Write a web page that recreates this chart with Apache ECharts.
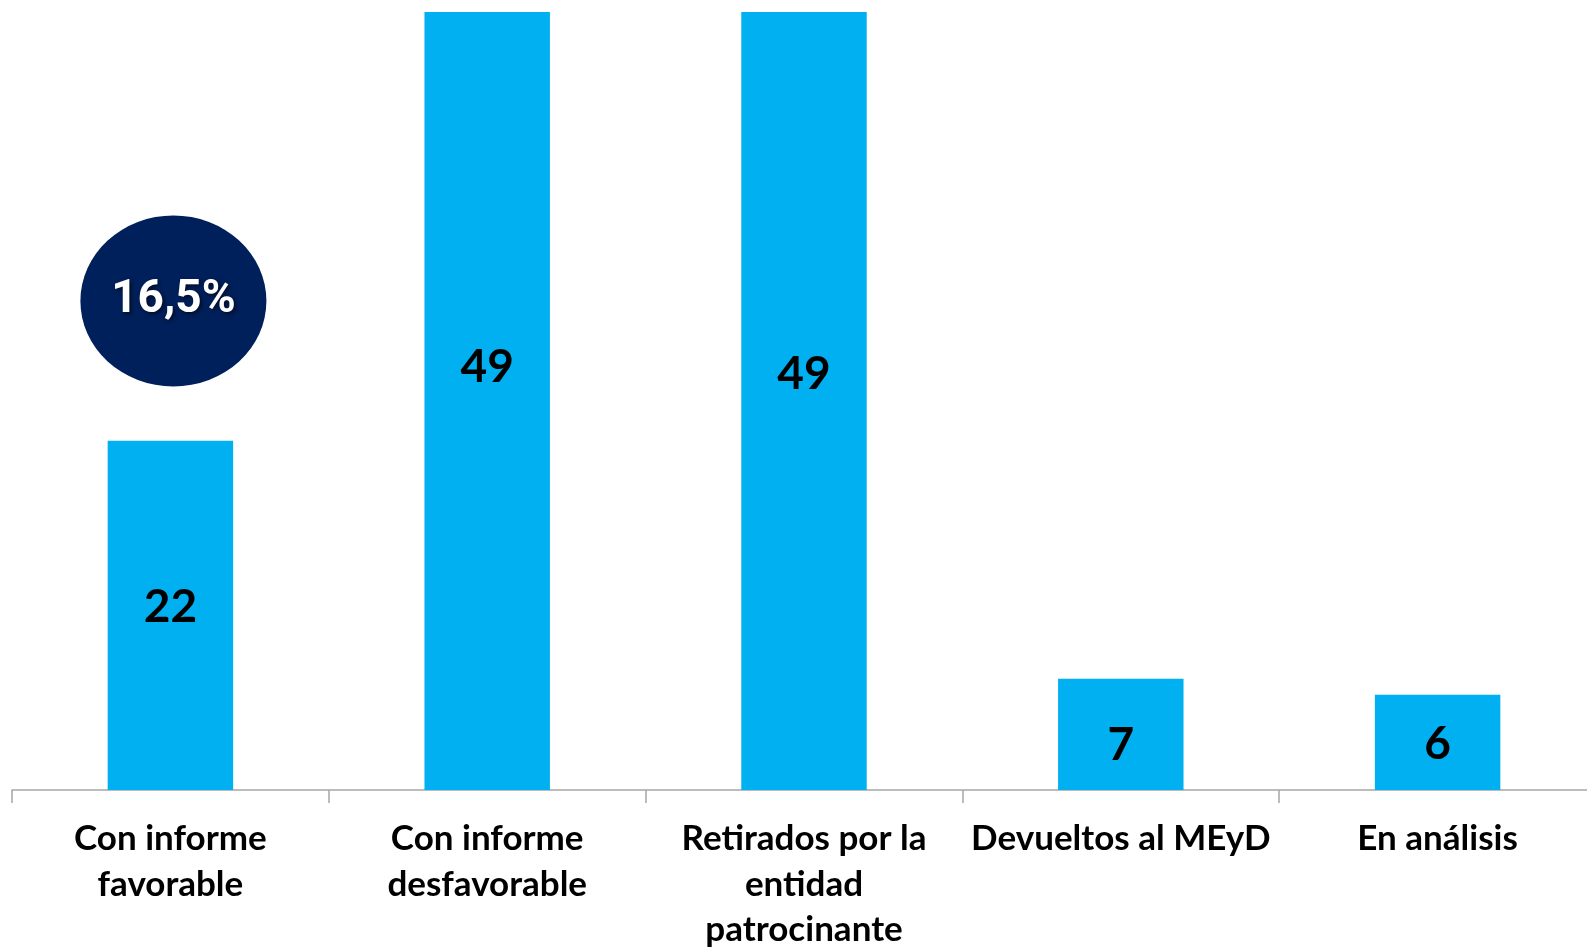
<!DOCTYPE html>
<html>
<head>
<meta charset="utf-8">
<script src="https://cdn.jsdelivr.net/npm/echarts@6/dist/echarts.min.js"></script>
<style>
  html, body { margin: 0; padding: 0; background: #fff; }
  #chart { width: 1587px; height: 947px; }
</style>
</head>
<body>
<div id="chart"></div>
<script>
// datos del gráfico
var categories = ['Con informe\nfavorable', 'Con informe\ndesfavorable', 'Retirados por la\nentidad\npatrocinante', 'Devueltos al MEyD', 'En análisis'];
var values = [22, 49, 49, 7, 6];
var axisMax = 49;
var badgeText = '16,5%';
var badgeAt = [0, 30.8];   // categoría y valor donde va el círculo
// ajuste vertical de las etiquetas (px)
var labelShift = [-8, -34, -27, 11, 2];

var chart = echarts.init(document.getElementById('chart'));

var seriesData = values.map(function (v, i) {
  return { value: v, label: { offset: [0, labelShift[i]] } };
});

var option = {
  animation: false,
  grid: { left: 12, width: 1584, top: 12, bottom: 157, containLabel: false, outerBoundsMode: 'none' },
  xAxis: {
    type: 'category',
    data: categories,
    axisLine: { lineStyle: { color: '#A6A6A6', width: 1.5 } },
    axisTick: { show: true, length: 13, lineStyle: { color: '#A6A6A6', width: 1.5 } },
    axisLabel: {
      interval: 0,
      margin: 26,
      color: '#000',
      fontFamily: 'Lato',
      fontWeight: 'bold',
      fontSize: 35,
      lineHeight: 45.5
    }
  },
  yAxis: {
    type: 'value',
    min: 0,
    max: axisMax,
    show: false,
    splitLine: { show: false }
  },
  series: [{
    type: 'bar',
    data: seriesData,
    barWidth: '39.6%',
    itemStyle: { color: '#00B0F0' },
    label: {
      show: true,
      position: 'inside',
      color: '#000',
      fontFamily: 'Lato',
      fontWeight: 'bold',
      fontSize: 46
    },
    markPoint: {
      symbol: 'circle',
      symbolSize: [186, 171],
      symbolOffset: [3, 0],
      itemStyle: { color: '#00205B' },
      label: {
        show: true,
        position: 'inside',
        color: '#fff',
        fontFamily: 'Roboto',
        fontWeight: 'bold',
        fontSize: 46,
        textShadowColor: 'rgba(0,0,0,0.6)',
        textShadowBlur: 4,
        textShadowOffsetX: 2,
        textShadowOffsetY: 2,
        formatter: function () { return badgeText; }
      },
      data: [{ coord: badgeAt }]
    }
  }]
};

chart.setOption(option);
</script>
</body>
</html>
